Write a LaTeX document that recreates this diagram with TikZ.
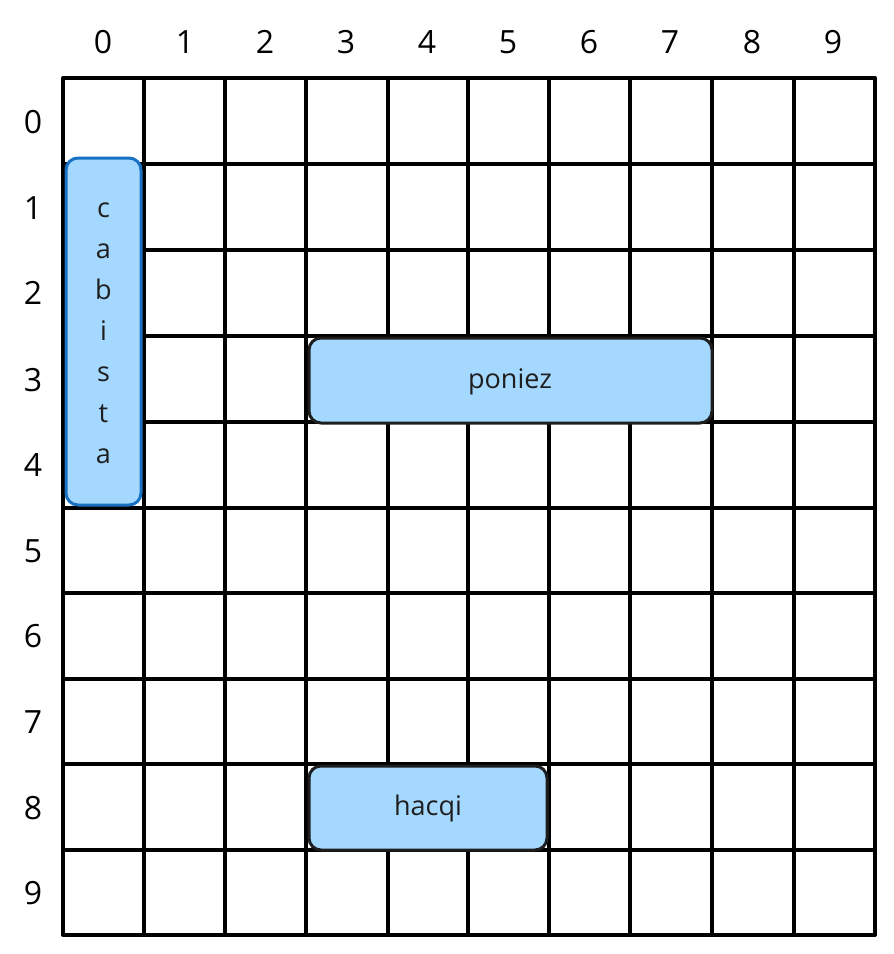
\documentclass[tikz,border=0pt]{standalone}
\usepackage{fontspec}
\setmainfont{Open Sans}
\definecolor{boxfill}{HTML}{A5D8FF}
\definecolor{boxblue}{HTML}{1971C2}
\definecolor{ink}{HTML}{1E1E1E}
\begin{document}
\begin{tikzpicture}[x=1pt,y=-1pt,
  gridline/.style={line width=3.5pt,draw=black,line cap=round},
  axislabel/.style={font=\fontsize{32}{34}\selectfont,text=black,inner sep=0pt},
  cellbox/.style={fill=boxfill,line width=3pt,rounded corners=12pt,inner sep=0pt},
  boxtext/.style={font=\fontsize{27}{27}\selectfont,text=ink,inner sep=0pt}]
\useasboundingbox (0,0) rectangle (894,954);
\fill[white] (0,0) rectangle (894,954);
% grid
\foreach \x in {63,144,225,306,388,468,549,630,712,794,875}
  \draw[gridline] (\x,78) -- (\x,935);
\foreach \y in {78,164,250,336,422,508,593,679,764,850,935}
  \draw[gridline] (63,\y) -- (875,\y);
% column labels
\foreach \i/\x in {0/103,1/185,2/265,3/346,4/427,5/508,6/589,7/670,8/752,9/833}
  \node[axislabel] (c\i) at (\x,42) {\i};
% row labels
\foreach \i/\y in {0/122,1/208,2/293,3/380,4/465,5/551,6/636,7/722,8/808,9/893}
  \node[axislabel] (r\i) at (33,\y) {\i};
% boxes
\draw[cellbox,draw=boxblue] (66,158) rectangle (141,505);
\node[boxtext,align=center,font=\fontsize{27}{41}\selectfont] (cabista) at (103.5,333) {c\\a\\b\\i\\s\\t\\a};
\draw[cellbox,draw=ink] (309,338) rectangle (712,423);
\node[boxtext] (poniez) at (510,382) {poniez};
\draw[cellbox,draw=ink] (309,766) rectangle (547,850);
\node[boxtext] (hacqi) at (428,808) {hacqi};
\end{tikzpicture}
\end{document}
